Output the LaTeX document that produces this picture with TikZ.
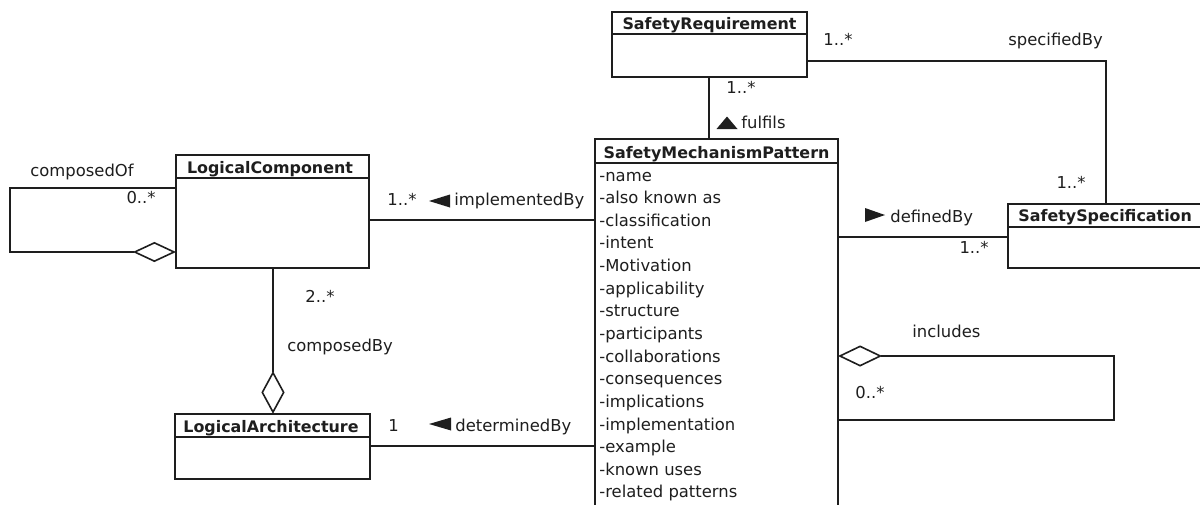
\documentclass[tikz,border=0pt]{standalone}
\usepackage{fontspec}
\setmainfont{DejaVu Sans}
\usetikzlibrary{fit,shapes.geometric}
\definecolor{ink}{HTML}{1E1E1E}
\tikzset{
  umlbox/.style={draw=ink, line width=0.8pt, inner sep=0pt, fill=white},
  umltitle/.style={inner sep=0pt, anchor=base, text=ink, font=\fontsize{7.95}{9}\selectfont\bfseries},
  attr/.style={inner sep=0pt, anchor=base west, text=ink, font=\fontsize{8.2}{9}\selectfont},
  lbl/.style={inner sep=0pt, anchor=base west, text=ink, font=\fontsize{8.2}{9}\selectfont},
  lblr/.style={lbl, anchor=base east},
  assoc/.style={draw=ink, line width=0.8pt},
  aggr/.style={diamond, draw=ink, line width=0.8pt, fill=white, inner sep=0pt},
  dirmark/.style={fill=ink, draw=none}
}
\begin{document}
\begin{tikzpicture}[x=0.5pt, y=-0.5pt]
\clip (0,0) rectangle (1200,504);
\fill[white] (0,0) rectangle (1200,504);

% ---- classes ----
\node[umlbox, fit={(612,12) (807,77)}] (sr) {};
\draw[assoc] (sr.west |- 0,34) -- (sr.east |- 0,34);
\node[umltitle] (srt) at (709.5,29) {SafetyRequirement};

\node[umlbox, fit={(595,139) (838,530)}] (smp) {};
\draw[assoc] (smp.west |- 0,163) -- (smp.east |- 0,163);
\node[umltitle] (smpt) at (716.5,158) {SafetyMechanismPattern};

\node[umlbox, fit={(176,155) (369,268)}] (lc) {};
\draw[assoc] (lc.west |- 0,178) -- (lc.east |- 0,178);
\node[umltitle] (lct) at (270,173) {LogicalComponent};

\node[umlbox, fit={(175,414) (370,479)}] (la) {};
\draw[assoc] (la.west |- 0,437) -- (la.east |- 0,437);
\node[umltitle] (lat) at (271,432) {LogicalArchitecture};

\node[umlbox, fit={(1008,204) (1203,268)}] (ss) {};
\draw[assoc] (ss.west |- 0,227) -- (ss.east |- 0,227);
\node[umltitle, anchor=base west] (sst) at (1018,221) {SafetySpecification};

% ---- attributes of SafetyMechanismPattern ----
\foreach \a [count=\i from 0] in {-name,-also known as,-classification,-intent,-Motivation,-applicability,-structure,-participants,-collaborations,-consequences,-implications,-implementation,-example,-known uses,-related patterns}
  \node[attr] (attr\i) at (599,{181+22.64*\i}) {\a};

% ---- associations ----
% implementedBy
\draw[assoc] (lc.east |- 0,220) -- (smp.west |- 0,220);
\node[lbl] (m1) at (387,205) {1..*};
\fill[dirmark] (429,201) -- (450,194.5) -- (450,207.5) -- cycle;
\node[lbl] (implby) at (454,205) {implementedBy};

% determinedBy
\draw[assoc] (la.east |- 0,446) -- (smp.west |- 0,446);
\node[lbl] (m2) at (388,431) {1};
\fill[dirmark] (429,424) -- (451,417.5) -- (451,430.5) -- cycle;
\node[lbl] (detby) at (455,431) {determinedBy};

% fulfils
\draw[assoc] (sr.south -| 709,0) -- (smp.north -| 709,0);
\node[lbl] (m3) at (726,93) {1..*};
\fill[dirmark] (727,116.5) -- (716.5,129) -- (737.5,129) -- cycle;
\node[lbl] (ful) at (741,128) {fulfils};

% specifiedBy
\draw[assoc] (sr.east |- 0,61) -| (ss.north -| 1106,0);
\node[lbl] (m4) at (823,45) {1..*};
\node[lbl] (specby) at (1008,45) {specifiedBy};
\node[lblr] (m5) at (1086,188) {1..*};

% definedBy
\draw[assoc] (smp.east |- 0,237) -- (ss.west |- 0,237);
\fill[dirmark] (885,215) -- (865,208) -- (865,222) -- cycle;
\node[lbl] (defby) at (890,222) {definedBy};
\node[lblr] (m6) at (989,253) {1..*};

% composedOf (self aggregation of LogicalComponent)
\node[aggr, minimum width=20pt, minimum height=9.5pt, anchor=east] (d1) at (lc.west |- 0,252) {};
\draw[assoc] (lc.west |- 0,188) -- (10,188) -- (10,252) -- (d1.west);
\node[lbl] (compof) at (30,176) {composedOf};
\node[lblr] (m7) at (156,203) {0..*};

% composedBy
\node[aggr, minimum width=11pt, minimum height=20pt, anchor=south] (d2) at (la.north -| 273,0) {};
\draw[assoc] (lc.south -| 273,0) -- (d2.north);
\node[lbl] (m8) at (305,302) {2..*};
\node[lbl] (compby) at (287,351) {composedBy};

% includes (self aggregation of SafetyMechanismPattern)
\node[aggr, minimum width=20.5pt, minimum height=10pt, anchor=west] (d3) at (smp.east |- 0,356) {};
\draw[assoc] (d3.east) -| (1114,420) -- (smp.east |- 0,420);
\node[lbl] (incl) at (912,337) {includes};
\node[lbl] (m9) at (855,398) {0..*};
\end{tikzpicture}
\end{document}
